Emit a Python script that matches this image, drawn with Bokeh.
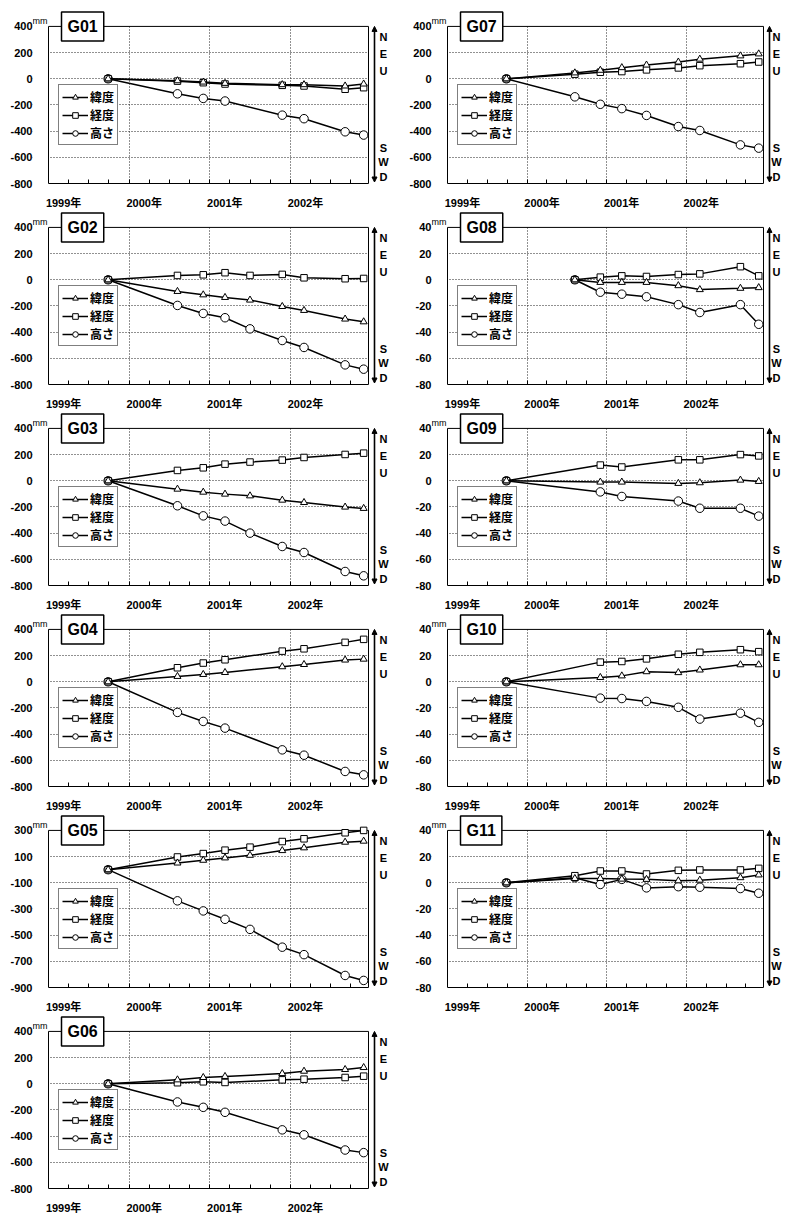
from bokeh.plotting import figure
from bokeh.models import Range1d, FixedTicker, Label, Arrow, NormalHead, Legend, LegendItem
from bokeh.layouts import column, row
from bokeh.embed import file_html
from bokeh.resources import INLINE

# ---------------- data ----------------
year_ticks = [1999, 2000, 2001, 2002]
year_labels = ["1999年", "2000年", "2001年", "2002年"]
legend_labels = ["緯度", "経度", "高さ"]
side_letters = ["N", "E", "U", "S", "W", "D"]

G01_t = [1999.74, 2000.60, 2000.92, 2001.19, 2001.90, 2002.17, 2002.68, 2002.91]
G01_lat = [0, -15, -25, -35, -45, -45, -55, -40]
G01_lon = [0, -18, -30, -40, -50, -55, -80, -68]
G01_hgt = [0, -115, -150, -170, -278, -305, -405, -430]

G02_t = [1999.74, 2000.60, 2000.92, 2001.19, 2001.50, 2001.90, 2002.17, 2002.68, 2002.91]
G02_lat = [0, -89, -115, -135, -155, -204, -234, -300, -321]
G02_lon = [0, 33, 38, 54, 33, 41, 15, 8, 10]
G02_hgt = [0, -196, -257, -290, -375, -464, -517, -650, -683]

G03_t = [1999.74, 2000.60, 2000.92, 2001.19, 2001.50, 2001.90, 2002.17, 2002.68, 2002.91]
G03_lat = [0, -64, -87, -102, -115, -148, -166, -201, -211]
G03_lon = [0, 79, 99, 127, 143, 158, 178, 201, 211]
G03_hgt = [0, -191, -268, -308, -400, -502, -548, -693, -726]

G04_t = [1999.74, 2000.60, 2000.92, 2001.19, 2001.90, 2002.17, 2002.68, 2002.91]
G04_lat = [0, 41, 56, 71, 115, 132, 166, 173]
G04_lon = [0, 107, 143, 168, 234, 252, 301, 324]
G04_hgt = [0, -234, -303, -354, -520, -561, -685, -711]

G05_t = [1999.74, 2000.60, 2000.92, 2001.19, 2001.50, 2001.90, 2002.17, 2002.68, 2002.91]
G05_lat = [0, 51, 72, 90, 110, 146, 167, 210, 218]
G05_lon = [0, 97, 123, 149, 172, 215, 236, 282, 300]
G05_hgt = [0, -238, -315, -379, -456, -592, -649, -808, -846]

G06_t = [1999.74, 2000.60, 2000.92, 2001.19, 2001.90, 2002.17, 2002.68, 2002.91]
G06_lat = [0, 30, 48, 56, 78, 96, 109, 124]
G06_lon = [0, 8, 15, 10, 30, 35, 48, 58]
G06_hgt = [0, -139, -180, -218, -352, -390, -506, -526]

G07_t = [1999.74, 2000.60, 2000.92, 2001.19, 2001.50, 2001.90, 2002.17, 2002.68, 2002.91]
G07_lat = [0, 45, 65, 85, 105, 128, 150, 175, 190]
G07_lon = [0, 35, 50, 55, 68, 83, 100, 115, 128]
G07_hgt = [0, -138, -195, -228, -280, -365, -395, -505, -530]

G08_t = [2000.60, 2000.92, 2001.19, 2001.50, 2001.90, 2002.17, 2002.68, 2002.91]
G08_lat = [0, -2, -2, -2, -4.5, -7.5, -6.5, -6]
G08_lon = [0, 2, 3, 2.5, 4, 4.5, 10, 3]
G08_hgt = [0, -9.5, -11, -13, -19, -25, -19, -34]

G09_t = [1999.74, 2000.92, 2001.19, 2001.90, 2002.17, 2002.68, 2002.91]
G09_lat = [0, -1, -1, -2, -1.5, 0.5, -0.5]
G09_lon = [0, 12, 10.5, 16, 16, 20, 19]
G09_hgt = [0, -8.5, -12, -15.5, -21, -21, -27]

G10_t = [1999.74, 2000.92, 2001.19, 2001.50, 2001.90, 2002.17, 2002.68, 2002.91]
G10_lat = [0, 3.3, 4.5, 7.7, 7, 9, 13, 13]
G10_lon = [0, 15, 15.5, 17.5, 21, 22.5, 24.5, 23]
G10_hgt = [0, -12.5, -12.8, -15, -19.5, -28.5, -24, -31]

G11_t = [1999.74, 2000.60, 2000.92, 2001.19, 2001.50, 2001.90, 2002.17, 2002.68, 2002.91]
G11_lat = [0, 3.3, 3.3, 2.8, 2.6, 1.5, 2, 3.9, 6]
G11_lon = [0, 5.4, 9, 9, 6.7, 9.5, 9.8, 9.8, 11]
G11_hgt = [0, 3.9, -1.3, 2.6, -3.9, -3, -3.4, -4.4, -8]

# ---------------- drawing ----------------
NUM_FONT = "Liberation Sans"
AX_FONT = "Liberation Sans, Noto Sans CJK JP"
CJK_FONT = "Noto Sans CJK JP"


def make_panel(name, t, lat, lon, hgt, ylo, yhi, ystep, col, first=False):
    # pixel geometry of the plotting box (data area) and the margins drawn inside the frame
    ext_l, ext_t = 16, 16
    if col == 0:
        bl, data_w, ext_r, letter_off = 32, 320, 25, 15
    else:
        bl, data_w, ext_r, letter_off = 38, 316, 22, 13
    data_h, bb = 158, 27
    bt = 10 if first else 0
    W = bl + ext_l + data_w + ext_r
    H = bt + ext_t + data_h + bb

    x0, x1 = 1999.0, 2002.97
    ppy = data_w / (x1 - x0)
    ppm = data_h / (yhi - ylo)
    xa_lo = x0 - ext_l / ppy
    xa_hi = x1 + ext_r / ppy
    ya_hi = yhi + ext_t / ppm

    p = figure(width=W, height=H, x_range=Range1d(xa_lo, xa_hi), y_range=Range1d(ylo, ya_hi),
               output_backend="svg", toolbar_location=None,
               min_border_left=bl, min_border_right=0, min_border_top=bt, min_border_bottom=bb,
               background_fill_color="white", border_fill_color="white")
    p.outline_line_color = None

    # x axis
    off = 0.1875
    p.xaxis.ticker = FixedTicker(ticks=[y + off for y in year_ticks],
                                 minor_ticks=[1999 + 0.25 * i for i in range(1, 16)])
    p.xaxis.major_label_overrides = {y + off: s for y, s in zip(year_ticks, year_labels)}
    p.xaxis.bounds = (x0, x1)
    p.xaxis.major_tick_in = 0
    p.xaxis.major_tick_out = 0
    p.xaxis.minor_tick_in = 4
    p.xaxis.minor_tick_out = 0
    p.xaxis.minor_tick_line_color = "black"
    p.xaxis.major_label_standoff = 13
    p.xaxis.major_label_text_font = AX_FONT
    p.xaxis.major_label_text_font_style = "bold"
    p.xaxis.major_label_text_font_size = "11px"
    p.xaxis.major_label_text_color = "black"
    p.xaxis.axis_line_color = "black"

    # y axis
    yt = list(range(ylo, yhi + 1, ystep))
    p.yaxis.ticker = FixedTicker(ticks=yt)
    p.yaxis.major_label_overrides = {v: str(v) for v in yt}
    p.yaxis.bounds = (ylo, yhi)
    p.yaxis.major_tick_in = 0
    p.yaxis.major_tick_out = 0
    p.yaxis.major_label_standoff = 0
    p.yaxis.major_label_text_font = NUM_FONT
    p.yaxis.major_label_text_font_style = "bold"
    p.yaxis.major_label_text_font_size = "11px"
    p.yaxis.major_label_text_color = "black"
    p.yaxis.axis_line_color = None

    # grids
    p.xgrid.ticker = FixedTicker(ticks=[2000, 2001, 2002])
    p.ygrid.ticker = FixedTicker(ticks=yt[1:-1])
    for g in (p.xgrid, p.ygrid):
        g.grid_line_color = "#222222"
        g.grid_line_dash = "1 2"
        g.grid_line_width = 1

    # white margins around the plotting box, then its border
    p.quad(left=[xa_lo, x1, x0], right=[x0, xa_hi, x1], bottom=[ylo, ylo, yhi],
           top=[ya_hi, ya_hi, ya_hi], fill_color="white", line_color=None)
    p.quad(left=[x0], right=[x1], bottom=[ylo], top=[yhi], fill_color=None,
           line_color="black", line_width=1)

    # series
    specs = [("高さ", hgt, "circle", 8.5), ("経度", lon, "square", 6.5), ("緯度", lat, "triangle", 7)]
    rend = {}
    for lab, vals, mk, sz in specs:
        l = p.line(t, vals, line_color="black", line_width=1.5)
        s = p.scatter(t, vals, marker=mk, size=sz, fill_color="white",
                      line_color="black", line_width=1)
        rend[lab] = [l, s]

    legend = Legend(items=[LegendItem(label=lab, renderers=rend[lab]) for lab in legend_labels],
                    location=(ext_l + 10, 38), orientation="vertical",
                    glyph_width=26, glyph_height=14, label_height=14, label_standoff=2,
                    spacing=1, padding=3, margin=0,
                    label_text_font=CJK_FONT, label_text_font_style="bold",
                    label_text_font_size="12px", label_text_color="black",
                    border_line_color="black", border_line_width=1.2,
                    background_fill_color="white", background_fill_alpha=1)
    p.add_layout(legend)

    # station box
    p.add_layout(Label(x=x0 + 13 / ppy, y=yhi, text=name, text_font=NUM_FONT,
                       text_font_style="bold", text_font_size="16px", text_color="black",
                       text_align="left", text_baseline="middle",
                       background_fill_color="white", border_line_color="black",
                       border_line_width=1.5, padding=6))
    # unit
    p.add_layout(Label(x=x0, y=yhi, text="mm", text_font=NUM_FONT, text_font_size="9px",
                       text_color="black", text_align="right", text_baseline="bottom",
                       x_offset=-1, y_offset=0))

    # direction arrow and letters
    xa = x1 + 6 / ppy
    p.add_layout(Arrow(x_start=xa, y_start=ylo + 1.5 / ppm, x_end=xa, y_end=yhi,
                       start=NormalHead(size=5, fill_color="black", line_color="black"),
                       end=NormalHead(size=5, fill_color="black", line_color="black"),
                       line_color="black", line_width=1.6))
    xl = x1 + letter_off / ppy
    fracs = [0.067, 0.175, 0.285, 0.775, 0.86, 0.96]
    for fr, ch in zip(fracs, side_letters):
        p.add_layout(Label(x=xl, y=yhi - fr * (yhi - ylo), text=ch, text_font=NUM_FONT,
                           text_font_style="bold", text_font_size="11px", text_color="black",
                           text_align="center", text_baseline="middle"))
    return p


left = [
    make_panel("G01", G01_t, G01_lat, G01_lon, G01_hgt, -800, 400, 200, 0, first=True),
    make_panel("G02", G02_t, G02_lat, G02_lon, G02_hgt, -800, 400, 200, 0),
    make_panel("G03", G03_t, G03_lat, G03_lon, G03_hgt, -800, 400, 200, 0),
    make_panel("G04", G04_t, G04_lat, G04_lon, G04_hgt, -800, 400, 200, 0),
    make_panel("G05", G05_t, G05_lat, G05_lon, G05_hgt, -900, 300, 200, 0),
    make_panel("G06", G06_t, G06_lat, G06_lon, G06_hgt, -800, 400, 200, 0),
]
right = [
    make_panel("G07", G07_t, G07_lat, G07_lon, G07_hgt, -800, 400, 200, 1, first=True),
    make_panel("G08", G08_t, G08_lat, G08_lon, G08_hgt, -80, 40, 20, 1),
    make_panel("G09", G09_t, G09_lat, G09_lon, G09_hgt, -80, 40, 20, 1),
    make_panel("G10", G10_t, G10_lat, G10_lon, G10_hgt, -80, 40, 20, 1),
    make_panel("G11", G11_t, G11_lat, G11_lon, G11_hgt, -80, 40, 20, 1),
]

rows = [row(l, r) for l, r in zip(left[:5], right)] + [row(left[5])]
layout = column(*rows)

open("out.html", "w").write(file_html(layout, INLINE, title="GPS変位"))
